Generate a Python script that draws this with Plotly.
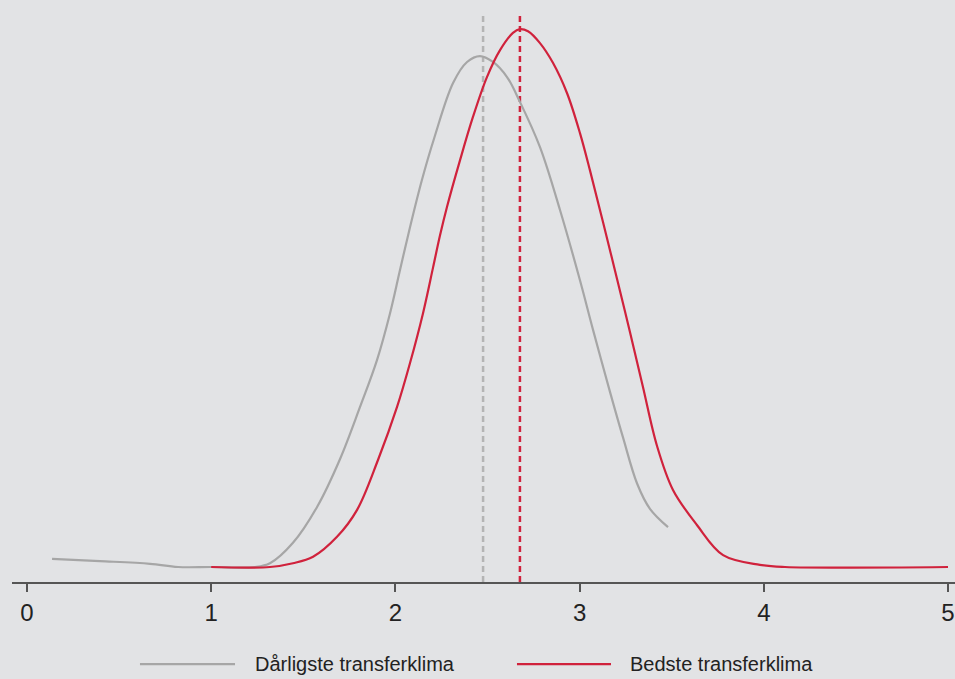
import plotly.graph_objects as go

# ---- data ----
gray_x = [0.136, 0.396, 0.668, 0.820, 1.000, 1.238, 1.319, 1.444, 1.574, 1.699,
          1.808, 1.900, 1.971, 2.025, 2.079, 2.144, 2.210, 2.313, 2.389, 2.459,
          2.530, 2.606, 2.676, 2.785, 2.894, 3.002, 3.073, 3.165, 3.236, 3.312,
          3.382, 3.480]
gray_y = [0.015, 0.011, 0.006, 0.000, 0.000, 0.000, 0.007, 0.045, 0.111, 0.200,
          0.297, 0.384, 0.471, 0.551, 0.630, 0.718, 0.795, 0.898, 0.937, 0.948,
          0.937, 0.909, 0.863, 0.779, 0.662, 0.532, 0.440, 0.325, 0.240, 0.155,
          0.108, 0.074]

red_x = [1.000, 1.319, 1.444, 1.553, 1.683, 1.792, 1.906, 2.009, 2.079, 2.150,
         2.204, 2.242, 2.280, 2.351, 2.421, 2.497, 2.568, 2.638, 2.676, 2.720,
         2.785, 2.856, 2.932, 3.002, 3.057, 3.127, 3.203, 3.274, 3.344, 3.420,
         3.507, 3.637, 3.779, 3.979, 4.115, 5.000]
red_y = [0.000, 0.000, 0.007, 0.019, 0.056, 0.106, 0.199, 0.297, 0.378, 0.471,
         0.555, 0.615, 0.668, 0.755, 0.835, 0.909, 0.959, 0.991, 0.998, 0.994,
         0.972, 0.935, 0.879, 0.805, 0.735, 0.640, 0.535, 0.435, 0.334, 0.225,
         0.143, 0.078, 0.022, 0.004, 0.000, 0.000]

gray_mean = 2.476
red_mean = 2.676

series_names = ["Dårligste transferklima", "Bedste transferklima"]
tick_vals = [0, 1, 2, 3, 4, 5]
tick_text = ["0", "1", "2", "3", "4", "5"]

# ---- style ----
BG = "#e2e3e5"
GRAY = "#a6a6a6"
RED = "#d0223c"
FONT = "Liberation Sans, Arial, sans-serif"
Y_MIN, Y_MAX = -0.0278, 1.052
X_MIN, X_MAX = -0.0814, 5.038
DASH_TOP = 1.026

fig = go.Figure()

fig.add_trace(go.Scatter(x=[gray_mean, gray_mean], y=[Y_MIN, DASH_TOP], mode="lines",
                         line=dict(color="#b4b4b4", width=2.5, dash="6px,4px"),
                         showlegend=False, hoverinfo="skip"))
fig.add_trace(go.Scatter(x=[red_mean, red_mean], y=[Y_MIN, DASH_TOP], mode="lines",
                         line=dict(color=RED, width=2.5, dash="6px,4px"),
                         showlegend=False, hoverinfo="skip"))

fig.add_trace(go.Scatter(x=gray_x, y=gray_y, mode="lines", name=series_names[0],
                         line=dict(color=GRAY, width=2.2, shape="spline", smoothing=1.0),
                         showlegend=False))
fig.add_trace(go.Scatter(x=red_x, y=red_y, mode="lines", name=series_names[1],
                         line=dict(color=RED, width=2.2, shape="spline", smoothing=1.0),
                         showlegend=False))

# manual legend (long line samples like the reference)
legend_y = -0.141
fig.add_shape(type="line", xref="paper", yref="paper", x0=0.1357, x1=0.2365,
              y0=legend_y, y1=legend_y, line=dict(color=GRAY, width=2.2))
fig.add_shape(type="line", xref="paper", yref="paper", x0=0.5355, x1=0.6352,
              y0=legend_y, y1=legend_y, line=dict(color=RED, width=2.2))
fig.add_annotation(xref="paper", yref="paper", x=0.2556, y=legend_y, text=series_names[0],
                   showarrow=False, xanchor="left", yanchor="middle",
                   font=dict(family=FONT, size=20, color="#222222"))
fig.add_annotation(xref="paper", yref="paper", x=0.6532, y=legend_y, text=series_names[1],
                   showarrow=False, xanchor="left", yanchor="middle",
                   font=dict(family=FONT, size=20, color="#222222"))

fig.update_layout(
    width=955, height=679,
    margin=dict(l=12, r=0, t=0, b=97),
    paper_bgcolor=BG, plot_bgcolor=BG,
    showlegend=False,
    hovermode=False,
    font=dict(family=FONT, color="#222222"),
)
fig.update_xaxes(range=[X_MIN, X_MAX], tickvals=tick_vals, ticktext=tick_text,
                 showgrid=False, zeroline=False, showline=True, linecolor="#555555",
                 linewidth=2, ticks="outside", ticklen=8, tickwidth=2, tickcolor="#555555",
                 tickfont=dict(family=FONT, size=24, color="#222222"))
fig.update_yaxes(range=[Y_MIN, Y_MAX], visible=False, showgrid=False, zeroline=False)

fig.write_html("out.html",
               config={"displayModeBar": False, "staticPlot": True},
               post_script="document.body.style.margin='0';document.body.style.padding='0';"
                           "document.body.style.background='" + BG + "';")
